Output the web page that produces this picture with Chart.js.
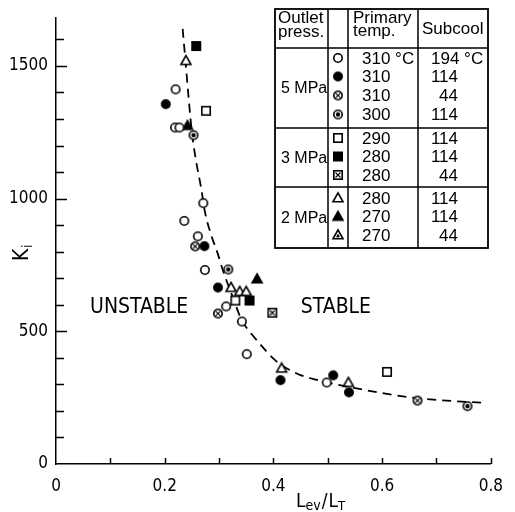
<!DOCTYPE html>
<html>
<head>
<meta charset="utf-8">
<script src="https://cdn.jsdelivr.net/npm/chart.js@4/dist/chart.umd.min.js"></script>
<style>
body { margin: 0; background: #fff; }
</style>
</head>
<body>
<canvas id="KiChart" width="515" height="512"></canvas>
<script>
// 5 MPa, 310 C, subcool 194 C (open circle)
var openCircleX = [0.220, 0.219, 0.227, 0.271, 0.236, 0.261, 0.274, 0.313, 0.342, 0.351, 0.498];
var openCircleY = [1412, 1268, 1268, 983, 916, 858, 731, 594, 537, 414, 307];
// 5 MPa, 310 C, subcool 114 C (filled circle)
var fillCircleX = [0.202, 0.273, 0.298, 0.413, 0.510, 0.539];
var fillCircleY = [1356, 821, 665, 316, 334, 270];
// 5 MPa, 310 C, subcool 44 C
var crossCircleX = [0.256, 0.298, 0.665];
var crossCircleY = [820, 567, 239];
// 5 MPa, 300 C, subcool 114 C
var dotCircleX = [0.253, 0.317, 0.757];
var dotCircleY = [1239, 733, 218];
// 3 MPa, 290 C, subcool 114 C
var openSquareX = [0.276, 0.330, 0.609];
var openSquareY = [1331, 616, 347];
// 3 MPa, 280 C, subcool 114 C
var fillSquareX = [0.258, 0.356];
var fillSquareY = [1575, 616];
// 3 MPa, 280 C, subcool 44 C
var crossSquareX = [0.398];
var crossSquareY = [570];
// 2 MPa, 280 C, subcool 114 C
var openTriX = [0.239, 0.322, 0.338, 0.350, 0.415, 0.538];
var openTriY = [1520, 665, 650, 650, 361, 307];
// 2 MPa, 270 C, subcool 114 C
var fillTriX = [0.242, 0.370];
var fillTriY = [1275, 697];
// 2 MPa, 270 C, subcool 44 C
var markTriX = [];
var markTriY = [];

// dashed boundary curve
var curveX = [0.233, 0.238, 0.244, 0.250, 0.257, 0.267, 0.274, 0.286, 0.298, 0.307, 0.325, 0.342, 0.356, 0.374, 0.401, 0.425, 0.450, 0.474, 0.498, 0.553, 0.598, 0.664, 0.789];
var curveY = [1640, 1523, 1380, 1250, 1150, 1040, 950, 860, 790, 730, 630, 540, 500, 455, 395, 360, 335, 320, 308, 285, 268, 248, 230];

var xTickLabels = [0, 0.2, 0.4, 0.6, 0.8];
var yTickLabels = [0, 500, 1000, 1500];
var xTickMarks = [0.1, 0.2, 0.3, 0.4, 0.5, 0.6, 0.7, 0.8];
var yTickMarks = [100, 200, 300, 400, 500, 600, 700, 800, 900, 1000, 1100, 1200, 1300, 1400, 1500, 1600];

var pressLabels = ['5 MPa', '3 MPa', '2 MPa'];
var tempLabels = ['310 °C', '310', '310', '300', '290', '280', '280', '280', '270', '270'];
var subcoolLabels = ['194 °C', '114', '44', '114', '114', '114', '44', '114', '114', '44'];
var markerKinds = ['circle', 'circleFill', 'circleCross', 'circleDot', 'square', 'squareFill', 'squareCross', 'tri', 'triFill', 'triMark'];

var axisFont = '"Liberation Sans Narrow", "DejaVu Sans Condensed", sans-serif';
var textFont = '"Liberation Sans", Arial, sans-serif';

function makeMarker(kind) {
    var c = document.createElement('canvas');
    c.width = 14; c.height = 14;
    var g = c.getContext('2d');
    g.strokeStyle = '#000';
    g.fillStyle = '#fff';
    g.lineWidth = 1.6;
    var m = 7;
    if (kind.indexOf('circle') === 0) {
        g.beginPath();
        g.arc(m, m, 4.2, 0, Math.PI * 2);
        if (kind === 'circleFill') g.fillStyle = '#000';
        g.fill();
        g.stroke();
        if (kind === 'circleCross') {
            g.lineWidth = 1.1;
            g.beginPath();
            g.moveTo(m - 2.6, m - 2.6); g.lineTo(m + 2.6, m + 2.6);
            g.moveTo(m + 2.6, m - 2.6); g.lineTo(m - 2.6, m + 2.6);
            g.stroke();
        }
        if (kind === 'circleDot') {
            g.fillStyle = '#000';
            g.beginPath();
            g.arc(m, m, 2.2, 0, Math.PI * 2);
            g.fill();
        }
    } else if (kind.indexOf('square') === 0) {
        if (kind === 'squareFill') g.fillStyle = '#000';
        g.fillRect(m - 4.2, m - 4.2, 8.4, 8.4);
        g.strokeRect(m - 4.2, m - 4.2, 8.4, 8.4);
        if (kind === 'squareCross') {
            g.lineWidth = 1.1;
            g.beginPath();
            g.moveTo(m - 2.5, m - 2.5); g.lineTo(m + 2.5, m + 2.5);
            g.moveTo(m + 2.5, m - 2.5); g.lineTo(m - 2.5, m + 2.5);
            g.stroke();
        }
    } else {
        g.beginPath();
        g.moveTo(m, m - 5.2);
        g.lineTo(m + 5, m + 3.8);
        g.lineTo(m - 5, m + 3.8);
        g.closePath();
        if (kind === 'triFill') g.fillStyle = '#000';
        g.fill();
        g.stroke();
        if (kind === 'triMark') {
            g.fillStyle = '#000';
            g.beginPath();
            g.moveTo(m, m - 1.5);
            g.lineTo(m + 2, m + 2.2);
            g.lineTo(m - 2, m + 2.2);
            g.closePath();
            g.fill();
        }
    }
    return c;
}

var markers = {};
markerKinds.forEach(function (k) { markers[k] = makeMarker(k); });

function pts(xs, ys) {
    return xs.map(function (x, i) { return { x: x, y: ys[i] }; });
}

function pointSet(label, xs, ys, kind) {
    return {
        label: label,
        data: pts(xs, ys),
        pointStyle: markers[kind],
        pointRadius: 5,
        showLine: false
    };
}

var extras = {
    id: 'extras',
    afterDraw: function (chart) {
        var ctx = chart.ctx;
        var xs = chart.scales.x, ys = chart.scales.y;
        ctx.save();
        ctx.strokeStyle = '#000';
        ctx.fillStyle = '#000';

        // inward tick marks
        ctx.lineWidth = 1.5;
        ctx.beginPath();
        yTickMarks.forEach(function (v) {
            var py = Math.round(ys.getPixelForValue(v)) + 0.5;
            var len = v % 500 === 0 ? 11 : 8;
            ctx.moveTo(xs.left, py);
            ctx.lineTo(xs.left + len, py);
        });
        xTickMarks.forEach(function (v) {
            var px = Math.round(xs.getPixelForValue(v)) + 0.5;
            ctx.moveTo(px, ys.bottom);
            ctx.lineTo(px, ys.bottom - 6);
        });
        ctx.stroke();

        // region labels
        ctx.font = '21px ' + axisFont;
        ctx.textAlign = 'center';
        ctx.textBaseline = 'middle';
        ctx.fillText('UNSTABLE', xs.getPixelForValue(0.153), ys.getPixelForValue(589));
        ctx.fillText('STABLE', xs.getPixelForValue(0.515), ys.getPixelForValue(589));

        // y axis title K_i
        ctx.save();
        ctx.translate(21, 252);
        ctx.rotate(-Math.PI / 2);
        ctx.textAlign = 'left';
        ctx.textBaseline = 'alphabetic';
        ctx.font = '21px ' + axisFont;
        ctx.fillText('K', -9, 7);
        ctx.font = '14px ' + axisFont;
        ctx.fillText('i', 4, 11);
        ctx.restore();

        // x axis title L_ev / L_T
        ctx.textAlign = 'left';
        ctx.textBaseline = 'alphabetic';
        var tx = 296, ty = 507;
        ctx.font = '19px ' + axisFont;
        ctx.fillText('L', tx, ty); tx += ctx.measureText('L').width;
        ctx.font = '14px ' + axisFont;
        ctx.fillText('ev', tx, ty + 3); tx += ctx.measureText('ev').width + 1;
        ctx.font = '19px ' + axisFont;
        ctx.fillText('/', tx, ty); tx += ctx.measureText('/').width + 1;
        ctx.fillText('L', tx, ty); tx += ctx.measureText('L').width;
        ctx.font = '13px ' + axisFont;
        ctx.fillText('T', tx, ty + 3);

        // legend table
        var L = 275, R = 488, T = 9, H = 48;
        var groupBottoms = [128, 187, 248];
        var cols = [328, 348, 418];
        ctx.lineWidth = 1.8;
        ctx.strokeRect(L, T, R - L, groupBottoms[2] - T);
        ctx.lineWidth = 1.5;
        ctx.beginPath();
        [H, groupBottoms[0], groupBottoms[1]].forEach(function (y) {
            ctx.moveTo(L, y); ctx.lineTo(R, y);
        });
        cols.forEach(function (x) {
            ctx.moveTo(x, T); ctx.lineTo(x, groupBottoms[2]);
        });
        ctx.stroke();

        ctx.font = '17px ' + textFont;
        ctx.textBaseline = 'middle';
        ctx.textAlign = 'left';
        ctx.fillText('Outlet', L + 3, 18);
        ctx.fillText('press.', L + 3, 32);
        ctx.fillText('Primary', 353, 18);
        ctx.fillText('temp.', 353, 31);
        ctx.fillText('Subcool', 422, 29);

        var groupTops = [H, groupBottoms[0], groupBottoms[1]];
        ctx.font = '16px ' + textFont;
        pressLabels.forEach(function (p, i) {
            ctx.fillText(p, L + 6, (groupTops[i] + groupBottoms[i]) / 2 + 1);
        });

        ctx.font = '17px ' + textFont;
        var rowY = [59, 77.5, 96.5, 115.5, 139, 157.5, 176, 199, 217.5, 236];
        rowY.forEach(function (y, i) {
            ctx.drawImage(markers[markerKinds[i]], 338 - 7, y - 8);
            ctx.textAlign = 'left';
            ctx.fillText(tempLabels[i], 362, y);
            if (i === 0) {
                ctx.fillText(subcoolLabels[i], 431, y);
            } else {
                ctx.textAlign = 'right';
                ctx.fillText(subcoolLabels[i], 458, y);
            }
        });
        ctx.restore();
    }
};

var ctx = document.getElementById('KiChart');

var KiChart = new Chart(ctx, {
    type: 'scatter',
    data: {
        datasets: [
            pointSet('5 MPa 310/194', openCircleX, openCircleY, 'circle'),
            pointSet('5 MPa 310/114', fillCircleX, fillCircleY, 'circleFill'),
            pointSet('5 MPa 310/44', crossCircleX, crossCircleY, 'circleCross'),
            pointSet('5 MPa 300/114', dotCircleX, dotCircleY, 'circleDot'),
            pointSet('3 MPa 290/114', openSquareX, openSquareY, 'square'),
            pointSet('3 MPa 280/114', fillSquareX, fillSquareY, 'squareFill'),
            pointSet('3 MPa 280/44', crossSquareX, crossSquareY, 'squareCross'),
            pointSet('2 MPa 280/114', openTriX, openTriY, 'tri'),
            pointSet('2 MPa 270/114', fillTriX, fillTriY, 'triFill'),
            pointSet('2 MPa 270/44', markTriX, markTriY, 'triMark'),
            {
                label: 'boundary',
                data: pts(curveX, curveY),
                showLine: true,
                borderColor: '#000',
                borderWidth: 1.8,
                borderDash: [9, 6],
                pointRadius: 0,
                cubicInterpolationMode: 'monotone'
            }
        ]
    },
    options: {
        responsive: false,
        animation: false,
        layout: { padding: { top: 7, right: 21, left: 0, bottom: 0 } },
        plugins: {
            legend: { display: false },
            tooltip: { enabled: false }
        },
        scales: {
            x: {
                type: 'linear',
                min: 0,
                max: 0.8,
                afterFit: function (s) { s.height = 48; },
                afterBuildTicks: function (s) {
                    s.ticks = xTickLabels.map(function (v) { return { value: v }; });
                },
                grid: { display: false, drawTicks: false },
                border: { display: true, color: '#000', width: 1.5 },
                ticks: {
                    color: '#000',
                    padding: 12,
                    maxRotation: 0,
                    font: { family: axisFont, size: 17 },
                    callback: function (v) { return v === 0 ? '0' : v.toFixed(1); }
                }
            },
            y: {
                min: 0,
                max: 1680,
                afterFit: function (s) { s.width = 56; },
                afterBuildTicks: function (s) {
                    s.ticks = yTickLabels.map(function (v) { return { value: v }; });
                },
                grid: { display: false, drawTicks: false },
                border: { display: true, color: '#000', width: 1.5 },
                ticks: {
                    color: '#000',
                    padding: 8,
                    font: { family: axisFont, size: 17 },
                    callback: function (v) { return String(v); }
                }
            }
        }
    },
    plugins: [extras]
});
</script>
</body>
</html>
